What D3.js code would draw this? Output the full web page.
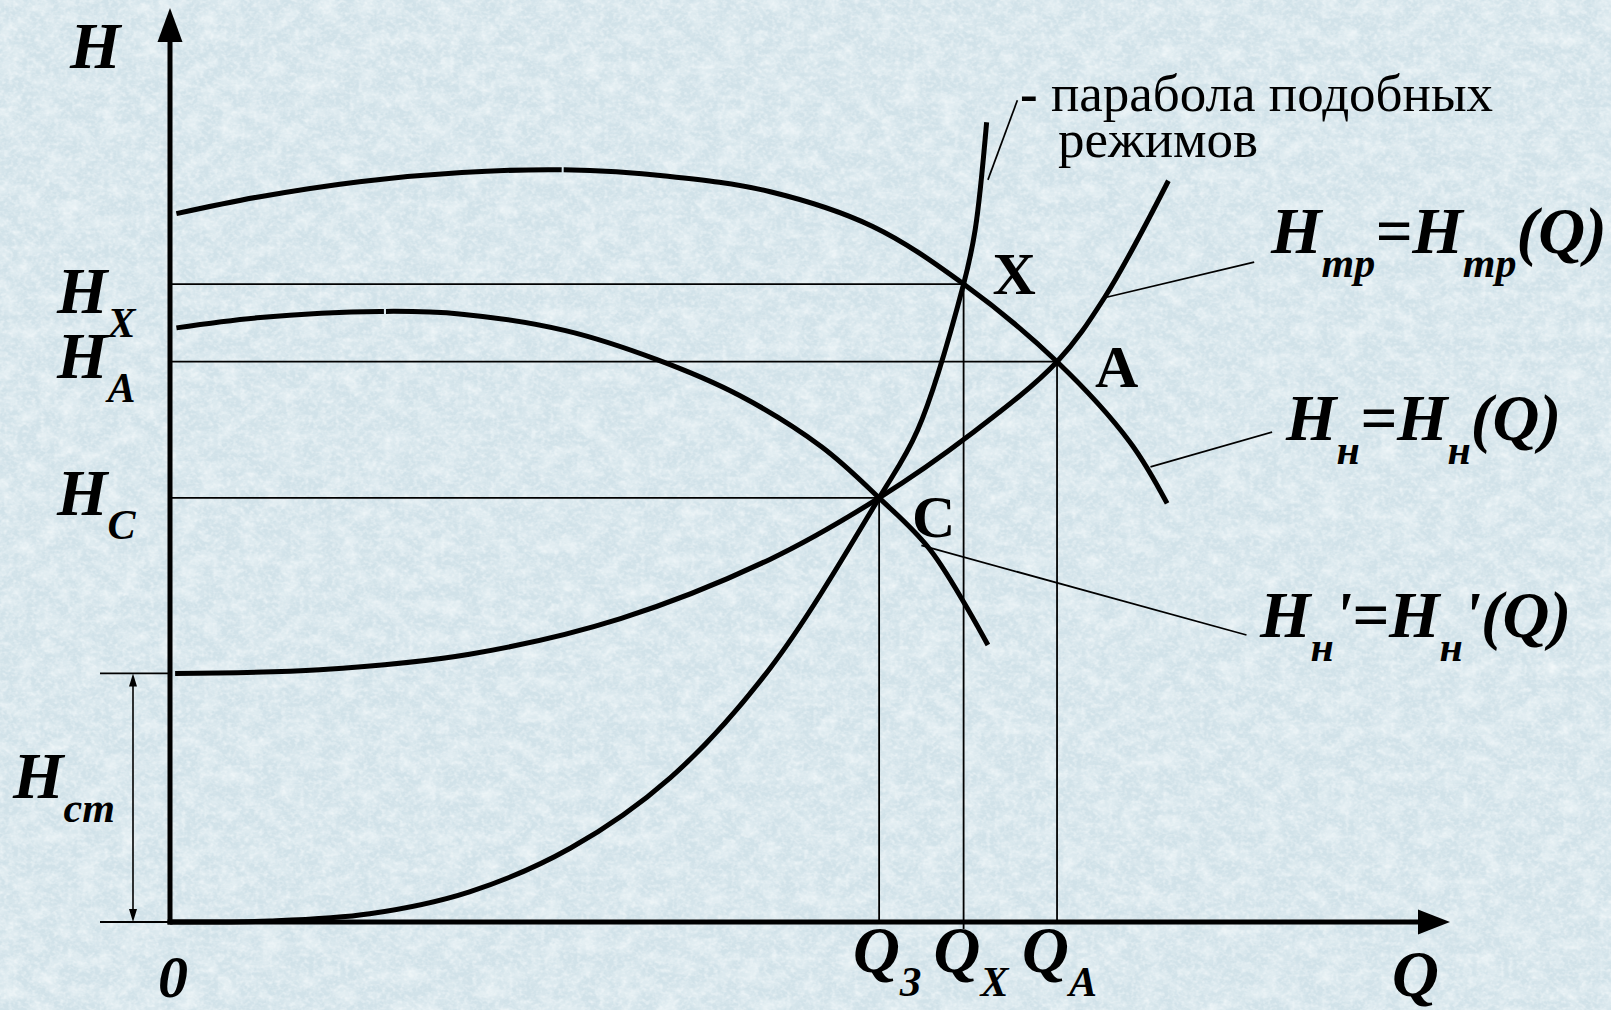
<!DOCTYPE html>
<html>
<head>
<meta charset="utf-8">
<script src="https://cdn.jsdelivr.net/npm/d3@7/dist/d3.min.js"></script>
<style>
  html, body { margin: 0; padding: 0; background: #d1e2e9; overflow: hidden; }
  svg { display: block; }
  text { font-family: "Liberation Serif", "Times New Roman", serif; fill: #000; }
</style>
</head>
<body>
<svg id="chart" width="1611" height="1010"></svg>
<script>
// Head H versus flow Q: pump curves, system curve and the parabola of similar regimes.
// All values are in chart units (Q and H from 0 to 10 along each axis).

// Pump curve H_н = H_н(Q)  [Q, H]
const pumpCurve = [
  [0.05, 7.75], [0.68, 7.93], [1.48, 8.10], [2.28, 8.20], [3.07, 8.23], [3.89, 8.16],
  [4.69, 7.99], [5.49, 7.61], [6.20, 6.98], [6.93, 6.13], [7.50, 5.25], [7.79, 4.58]
];
// Reduced pump curve H_н' = H_н'(Q)
const pumpCurveReduced = [
  [0.05, 6.50], [0.68, 6.61], [1.64, 6.68], [2.28, 6.65], [3.09, 6.47], [3.81, 6.15],
  [4.45, 5.76], [5.09, 5.20], [5.54, 4.64], [5.94, 4.07], [6.39, 3.03]
];
// System curve H_тр = H_тр(Q), starting at the static head
const systemCurve = [
  [0.04, 2.72], [1.17, 2.76], [2.34, 2.93], [3.52, 3.32], [4.69, 3.97], [5.54, 4.64],
  [6.25, 5.33], [6.93, 6.13], [7.30, 6.83], [7.80, 8.11]
];
// Parabola of similar regimes through the origin
const similarityParabola = [
  [0.00, 0.00], [0.78, 0.01], [1.56, 0.09], [2.34, 0.33], [3.13, 0.81], [3.91, 1.58],
  [4.69, 2.78], [5.54, 4.64], [5.84, 5.38], [6.20, 6.98], [6.29, 7.57], [6.38, 8.75]
];

const staticHead = 2.72;

// Operating points
const points = [
  { id: "X", q: 6.20, h: 6.98 },
  { id: "A", q: 6.93, h: 6.13 },
  { id: "C", q: 5.54, h: 4.64 }
];

// Axis tick labels
const headTicks = [
  { sub: "X", h: 6.98 },
  { sub: "A", h: 6.13 },
  { sub: "C", h: 4.64 }
];
const flowTicks = [
  { sub: "З", q: 5.54 },
  { sub: "X", q: 6.20 },
  { sub: "A", q: 6.93 }
];

// Leader lines for the curve captions: from a point near the curve to the caption
const leaders = [
  { from: [6.39, 8.12], to: [6.62, 8.99] },
  { from: [7.30, 6.83], to: [8.47, 7.22] },
  { from: [7.66, 4.98], to: [8.61, 5.36] },
  { from: [5.87, 4.12], to: [8.41, 3.14] }
];

// ---------------------------------------------------------------------------
const W = 1611, H = 1010;
const svg = d3.select("#chart");
const x = d3.scaleLinear().domain([0, 10]).range([170, 1450]);
const y = d3.scaleLinear().domain([0, 10]).range([922, 8]);

const MAIN = 65, SUB = 42, SUB_DY = 24;

// Fine mottled paper background
const defs = svg.append("defs");
function noiseFilter(id, freq, octaves, seed, matrix) {
  const f = defs.append("filter").attr("id", id).attr("x", 0).attr("y", 0)
    .attr("width", "100%").attr("height", "100%");
  f.append("feTurbulence").attr("type", "fractalNoise").attr("baseFrequency", freq)
    .attr("numOctaves", octaves).attr("seed", seed).attr("result", "n");
  f.append("feColorMatrix").attr("in", "n").attr("type", "matrix").attr("values", matrix);
}
noiseFilter("lightPatches", "0.05 0.065", 4, 7,
  "0 0 0 0 0.92  0 0 0 0 0.96  0 0 0 0 0.97  1.3 0 0 0 -0.52");
noiseFilter("darkGrain", "0.16 0.2", 3, 19,
  "0 0 0 0 0.72  0 0 0 0 0.81  0 0 0 0 0.85  -1.2 0 0 0 0.52");
noiseFilter("lightGrain", "0.22 0.26", 2, 31,
  "0 0 0 0 0.94  0 0 0 0 0.97  0 0 0 0 0.98  1.2 0 0 0 -0.5");

svg.append("rect").attr("width", W).attr("height", H).attr("fill", "#d1e2e9");
svg.append("rect").attr("width", W).attr("height", H).attr("filter", "url(#darkGrain)");
svg.append("rect").attr("width", W).attr("height", H).attr("filter", "url(#lightPatches)");
svg.append("rect").attr("width", W).attr("height", H).attr("filter", "url(#lightGrain)");

const g = svg.append("g");

// Thin guide lines to the operating points
const thin = g.append("g").attr("stroke", "#000").attr("stroke-width", 1.8).attr("fill", "none");
points.forEach(p => {
  thin.append("line").attr("x1", x(0)).attr("x2", x(p.q)).attr("y1", y(p.h)).attr("y2", y(p.h));
  thin.append("line").attr("x1", x(p.q)).attr("x2", x(p.q)).attr("y1", y(p.h))
    .attr("y2", p.id === "X" ? y(0) + 7 : y(0));
});

// Static head dimension
const dimX = 133, tickL = 100;
thin.append("line").attr("x1", tickL).attr("x2", x(0)).attr("y1", y(staticHead)).attr("y2", y(staticHead));
thin.append("line").attr("x1", tickL).attr("x2", x(0)).attr("y1", y(0)).attr("y2", y(0));
thin.append("line").attr("x1", dimX).attr("x2", dimX).attr("y1", y(staticHead) + 4).attr("y2", y(0) - 4)
  .attr("stroke-width", 1.6);
g.append("path").attr("fill", "#000")
  .attr("d", `M${dimX},${y(staticHead)} l-4,13 l8,0 Z M${dimX},${y(0)} l-4,-13 l8,0 Z`);

// Leader lines
leaders.forEach(l => {
  thin.append("line").attr("x1", x(l.from[0])).attr("y1", y(l.from[1]))
    .attr("x2", x(l.to[0])).attr("y2", y(l.to[1])).attr("stroke-width", 1.7);
});

// Curves
const line = d3.line().x(d => x(d[0])).y(d => y(d[1])).curve(d3.curveCatmullRom.alpha(0.5));
const curves = g.append("g").attr("fill", "none").attr("stroke", "#000").attr("stroke-width", 5);

function withBreak(path, q, gap) {
  // a hairline break in the stroke where two drawn pieces meet
  const node = path.node();
  const total = node.getTotalLength();
  const target = x(q);
  let lo = 0, hi = total;
  for (let i = 0; i < 40; i++) {
    const mid = (lo + hi) / 2;
    if (node.getPointAtLength(mid).x < target) lo = mid; else hi = mid;
  }
  path.attr("stroke-dasharray", `${lo} ${gap} ${total}`);
}

const pPump = curves.append("path").attr("d", line(pumpCurve));
withBreak(pPump, 3.06, 2);
const pPumpR = curves.append("path").attr("d", line(pumpCurveReduced));
withBreak(pPumpR, 1.67, 2);
curves.append("path").attr("d", line(systemCurve));
curves.append("path").attr("d", line(similarityParabola));

// Axes with arrowheads
const axes = g.append("g");
axes.append("line").attr("x1", x(0)).attr("x2", x(0)).attr("y1", y(0) + 2.5).attr("y2", y(10) + 30)
  .attr("stroke", "#000").attr("stroke-width", 5);
axes.append("line").attr("x1", x(0) - 2.5).attr("x2", x(10) - 28).attr("y1", y(0)).attr("y2", y(0))
  .attr("stroke", "#000").attr("stroke-width", 5);
axes.append("path").attr("fill", "#000")
  .attr("d", `M${x(0)},${y(10)} L${x(0) - 12.5},${y(10) + 34} L${x(0) + 12.5},${y(10) + 34} Z`);
axes.append("path").attr("fill", "#000")
  .attr("d", `M${x(10)},${y(0)} L${x(10) - 32},${y(0) - 12.5} L${x(10) - 32},${y(0) + 12.5} Z`);

// Text helpers
function richText(sel, px, py, parts, opts = {}) {
  const t = sel.append("text").attr("x", px).attr("y", py)
    .attr("font-size", opts.size || MAIN)
    .attr("font-weight", opts.weight || "bold")
    .attr("font-style", opts.style || "italic");
  let shift = 0;
  parts.forEach(p => {
    const target = p.sub ? SUB_DY : 0;
    t.append("tspan").attr("dy", target - shift)
      .attr("font-size", p.sub ? SUB : (opts.size || MAIN)).text(p.t);
    shift = target;
  });
  return t;
}

const labels = g.append("g");

// Axis titles and origin
richText(labels, 70, 68, [{ t: "H" }]);
richText(labels, 1392, 996, [{ t: "Q" }]);
richText(labels, 158, 997, [{ t: "0" }], { size: 60 });

// Head tick labels
const headBaseline = { X: 29, A: 16, C: 17 };
headTicks.forEach(d => {
  richText(labels, 57, y(d.h) + headBaseline[d.sub], [{ t: "H" }, { t: d.sub, sub: true }]);
});
richText(labels, 13, 798, [{ t: "H" }, { t: "ст", sub: true }]);

// Flow tick labels
const flowShift = { "З": 26, X: 30, A: 35 };
flowTicks.forEach(d => {
  richText(labels, x(d.q) - flowShift[d.sub], 972, [{ t: "Q" }, { t: d.sub, sub: true }]);
});

// Operating point letters
const pointOffset = { X: [29, 10], A: [38, 25], C: [33, 39] };
points.forEach(p => {
  labels.append("text").attr("x", x(p.q) + pointOffset[p.id][0]).attr("y", y(p.h) + pointOffset[p.id][1])
    .attr("font-size", 60).attr("font-weight", "bold").text(p.id);
});

// Curve captions
const cap = labels.append("text").attr("x", 1020).attr("y", 111).attr("font-size", 53);
cap.append("tspan").attr("font-weight", "bold").text("-");
cap.append("tspan").text(" парабола подобных");
labels.append("text").attr("x", 1058).attr("y", 157).attr("font-size", 53).text("режимов");

richText(labels, 1271, 253, [{ t: "H" }, { t: "тр", sub: true }, { t: "=H" }, { t: "тр", sub: true }, { t: "(Q)" }]);
richText(labels, 1286, 440, [{ t: "H" }, { t: "н", sub: true }, { t: "=H" }, { t: "н", sub: true }, { t: "(Q)" }]);
richText(labels, 1260, 637, [{ t: "H" }, { t: "н", sub: true }, { t: "'=H" }, { t: "н", sub: true }, { t: "'(Q)" }]);
</script>
</body>
</html>
